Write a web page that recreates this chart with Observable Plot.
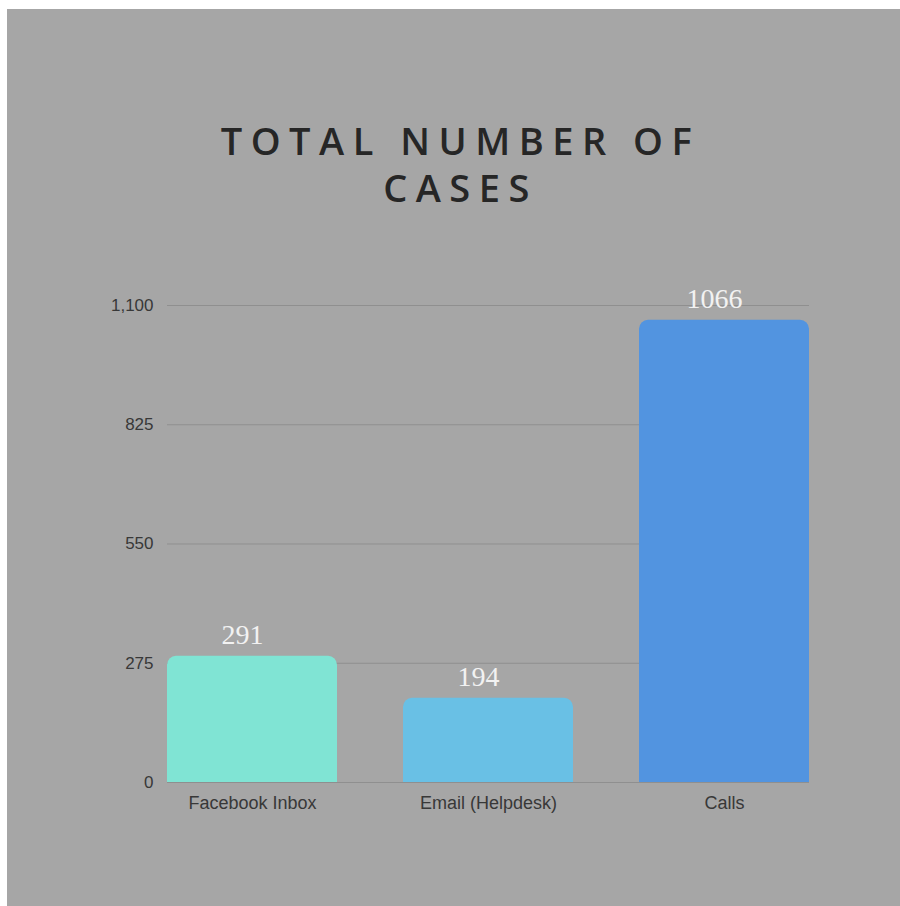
<!DOCTYPE html>
<html>
<head>
<meta charset="utf-8">
<script src="https://cdn.jsdelivr.net/npm/d3@7"></script>
<script src="https://cdn.jsdelivr.net/npm/@observablehq/plot@0.6"></script>
<style>
  html, body { margin: 0; padding: 0; background: #ffffff; }
  #frame {
    position: absolute; left: 7px; top: 9px; width: 893px; height: 897px;
    background: #a6a6a6; overflow: hidden;
  }
  .title {
    position: absolute; left: 0; width: 893px; text-align: center;
    font-family: "Open Sans", sans-serif; font-weight: 600; font-size: 38px;
    line-height: 40px; letter-spacing: 8.5px; color: #262626;
    padding-left: 14px; box-sizing: border-box; white-space: nowrap;
  }
  #t1 { top: 111px; }
  #t2 { top: 158px; }
  #chart { position: absolute; left: 0; top: 221px; }
</style>
</head>
<body>
<div id="frame">
  <div class="title" id="t1">TOTAL NUMBER OF</div>
  <div class="title" id="t2">CASES</div>
  <div id="chart"></div>
</div>
<script>
const categories = ["Facebook Inbox", "Email (Helpdesk)", "Calls"];
const values = [291, 194, 1066];
const barColors = ["#80e4d4", "#69c0e5", "#5294e0"];
const yTicks = [0, 275, 550, 825, 1100];

const data = categories.map((c, i) => ({category: c, value: values[i]}));

const plot = Plot.plot({
  width: 893,
  height: 620,
  marginLeft: 160,
  marginRight: 91,
  marginTop: 75,
  marginBottom: 68,
  style: {background: "transparent", fontFamily: "'Liberation Sans', Arial, sans-serif", color: "#383838"},
  x: {domain: categories, paddingInner: 0.28, paddingOuter: 0, label: null},
  y: {domain: [0, 1100], label: null},
  color: {domain: categories, range: barColors},
  marks: [
    Plot.gridY(yTicks, {stroke: "#8f8f8f", strokeOpacity: 1, strokeWidth: 1}),
    Plot.axisY(yTicks, {tickSize: 0, tickPadding: 14, fontSize: 17, tickFormat: d3.format(","), label: null}),
    Plot.axisX({tickSize: 0, tickPadding: 14, fontSize: 18, label: null}),
    Plot.barY(data, {x: "category", y: "value", fill: "category", ry1: 9}),
    Plot.text(data, {
      x: "category", y: "value", text: d => String(d.value), dy: -21, dx: -10,
      fill: "#f2f2f2", fontSize: 28, fontFamily: "'Liberation Serif', 'DejaVu Serif', serif",
      style: "letter-spacing: 4px"
    })
  ]
});
document.getElementById("chart").appendChild(plot);
</script>
</body>
</html>
